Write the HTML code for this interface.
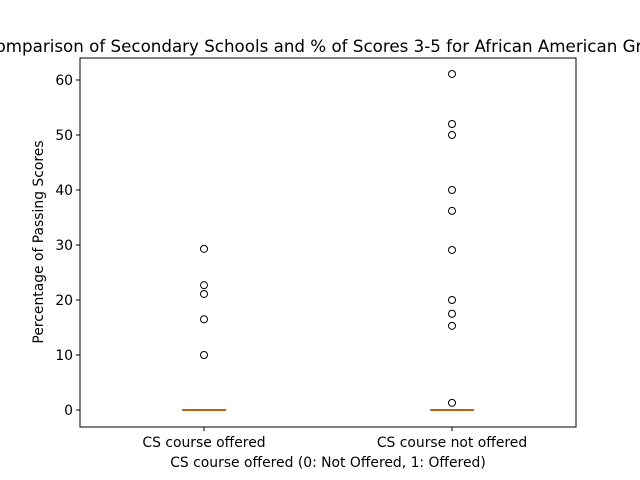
<!DOCTYPE html>
<html><head><meta charset="utf-8"><style>body{margin:0;background:#fff}svg{display:block;font-family:"DejaVu Sans","Liberation Sans",sans-serif}</style></head>
<body>
<svg id="chart" width="640" height="480" xmlns="http://www.w3.org/2000/svg">
<rect width="640" height="480" fill="#fff"/>
<text x="333" y="52" text-anchor="middle" font-size="16.7">Comparison of Secondary Schools and % of Scores 3-5 for African American Groups</text>
<g id="plot"></g>
<rect x="80" y="58" width="496" height="369" fill="none" stroke="#000" stroke-width="1"/>
<text x="328" y="467" text-anchor="middle" font-size="13.9">CS course offered (0: Not Offered, 1: Offered)</text>
<text transform="translate(43,242) rotate(-90)" text-anchor="middle" font-size="13.9">Percentage of Passing Scores</text>
</svg>
<script>
const categories = ["CS course offered", "CS course not offered"];
const medians = [0, 0];
const fliers = [
  [29.3, 22.7, 21.1, 16.5, 10],
  [61.1, 52, 50, 40, 36.2, 29.1, 20, 17.5, 15.3, 1.3]
];
const yTicks = [0, 10, 20, 30, 40, 50, 60];
const yMin = -3.09, yMax = 64;
const pLeft = 80, pRight = 576, pTop = 58, pBottom = 427;
const NS = "http://www.w3.org/2000/svg";
const g = document.getElementById('plot');
function y(v){ return pBottom - (v - yMin) / (yMax - yMin) * (pBottom - pTop); }
function x(i){ return pLeft + (pRight-pLeft) * (0.25 + 0.5*i); }
function mk(tag, attrs){ const e = document.createElementNS(NS, tag); for (const k in attrs) e.setAttribute(k, attrs[k]); g.appendChild(e); return e; }
yTicks.forEach(t => {
  const l = mk('line', {x1: pLeft-4, x2: pLeft, y1: y(t), y2: y(t), stroke: '#000'});
  
  
  const tx = mk('text', {x: pLeft-7, y: y(t)+5, 'text-anchor': 'end', 'font-size': 13.9});
  tx.textContent = t;
  
  
});
categories.forEach((c, i) => {
  const cx = x(i);
  const tk = mk('line', {x1: cx, x2: cx, y1: pBottom, y2: pBottom+4, stroke: '#000'});
  
  
  const tx = mk('text', {x: cx, y: pBottom+20, 'text-anchor': 'middle', 'font-size': 13.9});
  tx.textContent = c;
  
  
  const box = mk('rect', {x: cx-21, y: y(medians[i])-0.5, width: 42, height: 1, fill: 'none', stroke: '#000'});
  
  
  const med = mk('line', {x1: cx-21, x2: cx+21, y1: y(medians[i]), y2: y(medians[i]), stroke: '#ff7f0e', 'stroke-width': 1.5});
  
  
  fliers[i].forEach(v => {
    const p = mk('circle', {cx: cx, cy: y(v), r: 3.5, fill: 'none', stroke: '#000', 'stroke-width': 1});
    
    
  });
});
</script>
</body></html>
